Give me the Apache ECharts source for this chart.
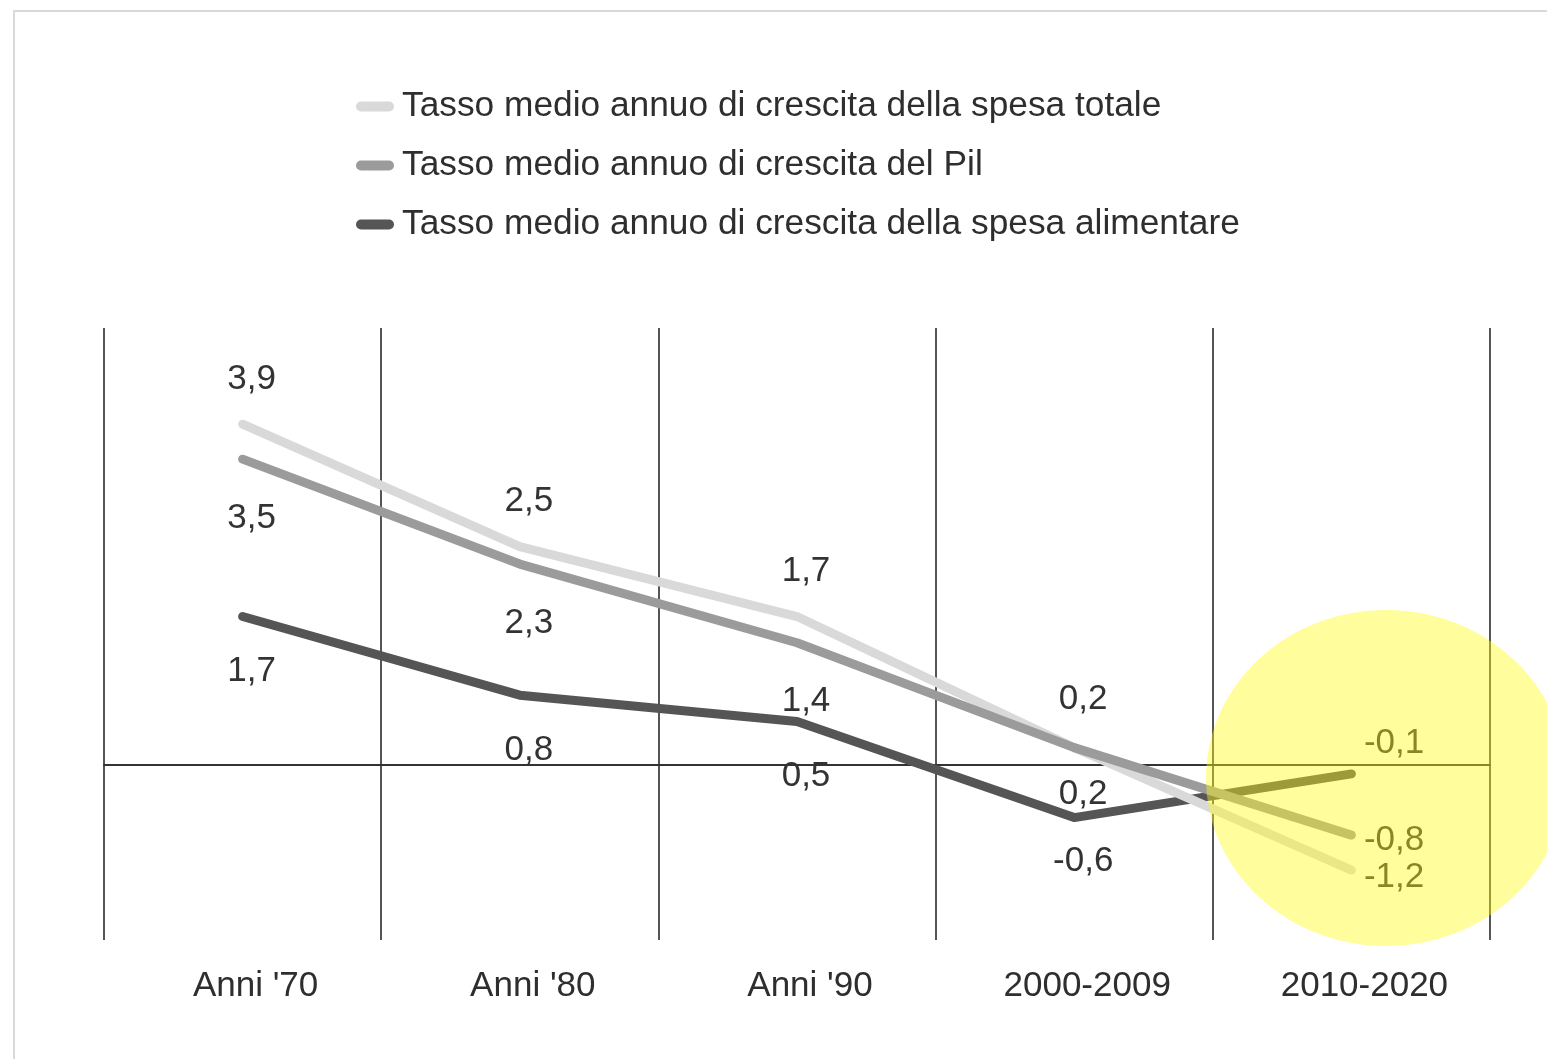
<!DOCTYPE html>
<html>
<head>
<meta charset="utf-8">
<script src="https://cdn.jsdelivr.net/npm/echarts@6/dist/echarts.min.js"></script>
<style>
html,body{margin:0;padding:0;background:#fff;}
#chart{width:1547px;height:1059px;}
</style>
</head>
<body>
<div id="chart"></div>
<script>
const categories = ["Anni '70", "Anni '80", "Anni '90", "2000-2009", "2010-2020"];
const seriesNames = [
  "Tasso medio annuo di crescita della spesa totale",
  "Tasso medio annuo di crescita del Pil",
  "Tasso medio annuo di crescita della spesa alimentare"
];
const seriesColors = ['#d9d9d9', '#9b9b9b', '#555555'];
const spesaTotale = [3.9, 2.5, 1.7, 0.2, -1.2];
const pil = [3.5, 2.3, 1.4, 0.2, -0.8];
const spesaAlimentare = [1.7, 0.8, 0.5, -0.6, -0.1];

const FONT = '"Liberation Sans", Arial, Helvetica, sans-serif';
const fmt = v => String(v).replace('.', ',');

function buildData(values, lastLabel, perIndex) {
  return values.map((v, i) => {
    const item = { value: v };
    if (i === values.length - 1) item.label = lastLabel;
    else if (perIndex && perIndex[i]) item.label = perIndex[i];
    return item;
  });
}

const labelBase = {
  show: true,
  fontFamily: FONT,
  fontSize: 35,
  color: '#333',
  offset: [9, 0],
  formatter: p => fmt(p.value)
};

const lineCommon = {
  type: 'line',
  symbol: 'circle',
  symbolSize: 1,
  showSymbol: true,
  itemStyle: { color: 'rgba(0,0,0,0)', borderWidth: 0 },
  emphasis: { disabled: true }
};

const chart = echarts.init(document.getElementById('chart'), null, { renderer: 'canvas' });
chart.setOption({
  backgroundColor: '#fff',
  animation: false,
  legend: {
    orient: 'vertical',
    left: 356,
    top: 89,
    itemWidth: 38,
    itemHeight: 10,
    itemGap: 24,
    padding: 0,
    icon: 'path://M5,0 L33,0 A5,5 0 0 1 33,10 L5,10 A5,5 0 0 1 5,0 Z',
    textStyle: { fontFamily: FONT, fontSize: 35.3, color: '#2e2e2e', padding: [0, 0, 0, 3] },
    data: seriesNames.map((n, i) => ({ name: n, itemStyle: { color: seriesColors[i], borderWidth: 0 } }))
  },
  grid: { left: 104, right: 57, top: 328, bottom: 119 },
  xAxis: [
    {
      type: 'category',
      data: categories,
      boundaryGap: true,
      position: 'bottom',
      axisLine: { show: true, onZero: true, lineStyle: { color: '#333', width: 2 } },
      axisTick: { show: false },
      axisLabel: { show: false },
      splitLine: { show: true, lineStyle: { color: '#555', width: 2 } }
    },
    {
      type: 'category',
      data: categories,
      boundaryGap: true,
      position: 'bottom',
      axisLine: { show: false, onZero: false },
      axisTick: { show: false },
      splitLine: { show: false },
      axisLabel: {
        show: true,
        fontFamily: FONT,
        fontSize: 35,
        color: '#2e2e2e',
        margin: 29,
        padding: [0, 0, 0, 26]
      }
    }
  ],
  yAxis: {
    type: 'value',
    min: -2,
    max: 5,
    show: false,
    splitLine: { show: false }
  },
  series: [
    Object.assign({}, lineCommon, {
      name: seriesNames[0],
      data: buildData(spesaTotale, { position: 'right', distance: 12, offset: [0, 7] },
        { 3: { distance: 30 } }),
      lineStyle: { width: 9, color: seriesColors[0], cap: 'round', join: 'round' },
      label: Object.assign({}, labelBase, { position: 'top', distance: 27 }),
      z: 3
    }),
    Object.assign({}, lineCommon, {
      name: seriesNames[1],
      data: buildData(pil, { position: 'right', distance: 12, offset: [0, 5] },
        { 3: { distance: 29 } }),
      lineStyle: { width: 9, color: seriesColors[1], cap: 'round', join: 'round' },
      label: Object.assign({}, labelBase, { position: 'bottom', distance: 41 }),
      z: 4
    }),
    Object.assign({}, lineCommon, {
      name: seriesNames[2],
      data: buildData(spesaAlimentare, { position: 'right', distance: 12, offset: [0, -31] },
        { 3: { distance: 26 } }),
      lineStyle: { width: 9, color: seriesColors[2], cap: 'round', join: 'round' },
      label: Object.assign({}, labelBase, { position: 'bottom', distance: 37 }),
      z: 2
    })
  ],
  graphic: [
    {
      type: 'rect',
      z: -10,
      silent: true,
      shape: { x: 14, y: 11, width: 1700, height: 1200 },
      style: { fill: 'none', stroke: '#d9d9d9', lineWidth: 2 }
    },
    {
      type: 'ellipse',
      z: 100,
      silent: true,
      shape: { cx: 1386, cy: 778, rx: 180, ry: 168 },
      style: { fill: 'rgba(255,250,20,0.42)' }
    }
  ]
});
</script>
</body>
</html>
